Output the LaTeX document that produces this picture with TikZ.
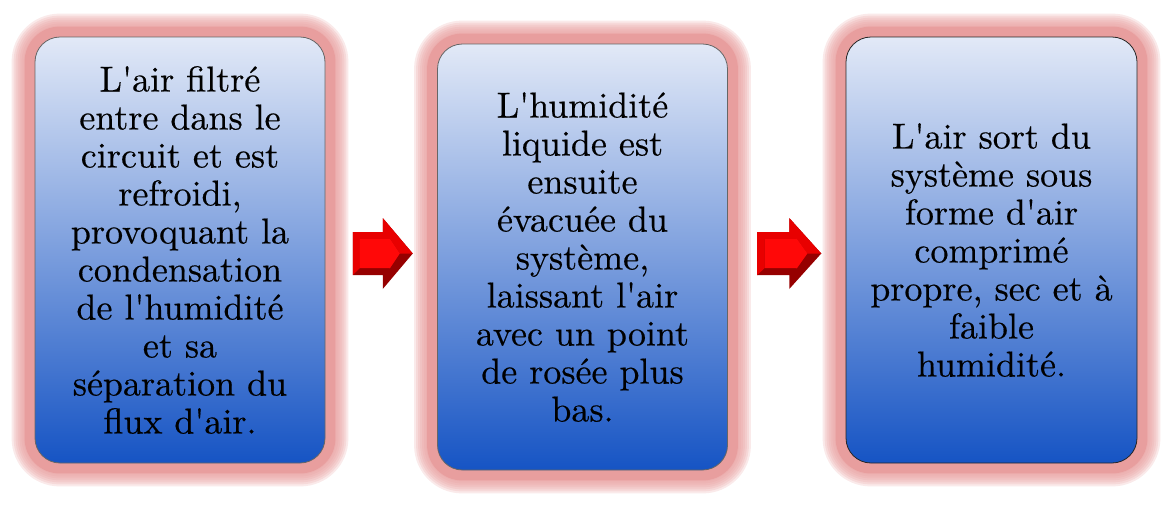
\documentclass[tikz,border=0pt]{standalone}
\usepackage{fontspec}
\setmainfont{lmroman10-regular.otf}[FakeBold=0.4]
\usetikzlibrary{backgrounds,calc}
\definecolor{glowpink}{RGB}{232,158,158}
\definecolor{boxtop}{RGB}{226,233,247}
\definecolor{boxbot}{RGB}{22,84,196}
\definecolor{arrdark}{RGB}{150,0,0}
\definecolor{arrmid}{RGB}{232,0,0}
\definecolor{arrface}{RGB}{255,8,8}
\newcommand\ap{\textquotesingle}
\tikzset{
  stepbox/.style={draw=#1, line width=0.8pt, rounded corners=25pt,
    minimum width=290pt, minimum height=426pt, inner sep=0pt, align=center,
    top color=boxtop, bottom color=boxbot,
    font=\fontsize{36}{38}\selectfont, text=black},
  blockarrow/.pic={
    \fill[arrdark] (-30,-21.5) -- (0,-21.5) -- (0,-35.5) -- (30,0) -- (0,35.5) -- (0,21.5) -- (-30,21.5) -- cycle;
    \fill[arrmid] (-30,-21.5) -- (0,-21.5) -- (0,-35.5) -- (30,0) -- (17,0) -- (7,-15) -- (7,-14.5) -- (-23,-14.5) -- (-23,14.5) -- (-30,21.5) -- cycle;
    \fill[arrface] (-23,-14.5) -- (7,-14.5) -- (7,-15) -- (17,0) -- (7,15) -- (7,14.5) -- (-23,14.5) -- cycle;
  }
}
\begin{document}
\begin{tikzpicture}[x=1pt,y=-1pt]
\useasboundingbox (0,0) rectangle (1171,504);
\node[stepbox=black!60] (b1) at (180,250) {L\ap air filtré\\entre dans le\\circuit et est\\refroidi,\\provoquant la\\condensation\\de l\ap humidité\\et sa\\séparation du\\flux d\ap air.};
\node[stepbox=black!60] (b2) at (582.5,257) {L\ap humidité\\liquide est\\ensuite\\évacuée du\\système,\\laissant l\ap air\\avec un point\\de rosée plus\\bas.};
\node[stepbox=black!85, minimum width=291pt] (b3) at (991.5,250) {L\ap air sort du\\système sous\\forme d\ap air\\comprimé\\propre, sec et à\\faible\\humidité.};
\begin{scope}[on background layer]
\foreach \b in {b1,b2,b3}{
  \foreach \d in {23,21,...,11}{
    \pgfmathsetmacro\r{25+\d}
    \fill[glowpink, opacity=0.22, rounded corners=\r pt] ($(\b.north west)+(-\d,-\d)$) rectangle ($(\b.south east)+(\d,\d)$);
  }
  \fill[glowpink, rounded corners=35pt] ($(\b.north west)+(-10,-10)$) rectangle ($(\b.south east)+(10,10)$);
}
\end{scope}
\pic at ($(b1.east)!0.5!(b2.west)+(1.5,0)$) {blockarrow};
\pic[xscale=1.067] at ($(b2.east)!0.5!(b3.west)+(2.5,0)$) {blockarrow};
\end{tikzpicture}
\end{document}
